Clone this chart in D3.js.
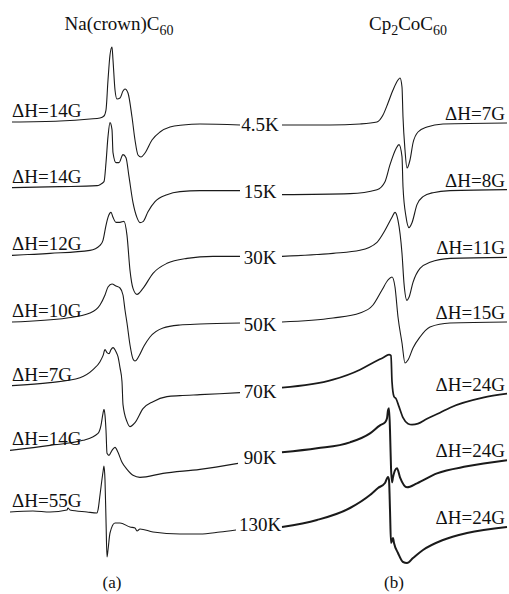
<!DOCTYPE html>
<html>
<head>
<meta charset="utf-8">
<script src="https://cdn.jsdelivr.net/npm/d3@7"></script>
<style>
  html, body { margin: 0; padding: 0; background: #fff; }
  svg { display: block; }
  text { font-family: "Liberation Serif", "Times New Roman", serif; fill: #111; }
</style>
</head>
<body>
<script>
// Temperatures shared by both panels
const temps = ["4.5K", "15K", "30K", "50K", "70K", "90K", "130K"];

// Peak-to-peak linewidths
const widthsA = [14, 14, 12, 10, 7, 14, 55];
const widthsB = [7, 8, 11, 15, 24, 24, 24];

// Panel (a) Na(crown)C60 derivative spectra: [field offset (G), signal (a.u.)]
const a4_5K = [[2,3],[50,4],[80,6],[90,7],[94,9],[96,15],[98,45],[100,70],[102,78],[103,65],[105,35],[107,26],[110,27],[113,34],[115,36],[118,32],[122,8],[125,-15],[128,-30],[131,-32],[135,-28],[142,-15],[150,-7],[160,-2],[173,0],[190,1],[230,0]];
const a15K = [[2,4],[50,5],[87,6],[90,7],[94,10],[96,29],[98,55],[100,69],[102,62],[103,39],[106,29],[109,29],[113,37],[116,34],[119,15],[123,-11],[127,-26],[130,-31],[133,-30],[138,-20],[145,-10],[157,-3],[170,0],[190,1],[230,1]];
const a30K = [[2,3],[40,5],[80,8],[90,13],[93,18],[96,33],[98,41],[101,46],[103,41],[106,36],[110,36],[114,37],[117,23],[120,-12],[123,-30],[127,-36],[133,-30],[143,-15],[157,-5],[177,0],[203,2],[230,2]];
const a50K = [[2,3],[57,7],[80,12],[90,20],[95,30],[98,38],[102,41],[106,39],[110,37],[113,30],[115,15],[117,2],[120,-20],[123,-34],[125,-36],[129,-31],[134,-21],[140,-12],[153,-3],[170,0],[190,1],[230,2]];
const a70K = [[2,6],[40,9],[70,14],[83,22],[90,30],[93,36],[95,42],[97,39],[99,38],[101,42],[103,44],[106,40],[108,35],[110,24],[112,10],[113,-13],[117,-30],[120,-35],[125,-31],[133,-17],[143,-10],[157,-5],[170,-4],[190,-3],[230,-1]];
const a90K = [[0,8],[40,13],[73,18],[88,25],[91,33],[93,45],[94,49],[95,43],[96,28],[97,5],[99,3],[102,8],[105,11],[108,6],[112,-4],[117,-11],[123,-17],[130,-19],[153,-15],[190,-11],[228,-5]];
const a130K = [[0,13],[23,14],[40,13],[57,15],[58,17],[60,15],[77,13],[87,12],[88,15],[90,30],[93,53],[94,59],[95,45],[96,5],[97,-32],[98,-25],[100,-8],[105,2],[110,2],[120,-2],[125,-3],[127,-6],[130,-4],[143,-7],[170,-9],[190,-9],[210,-7],[226,-5]];

// Panel (b) Cp2CoC60 derivative spectra: [field offset (G), signal (a.u.)]
const b4_5K = [[1,0],[49,0],[79,1],[96,3],[102,10],[107,22],[112,35],[117,45],[119,47],[121,38],[122,8],[124,-25],[126,-43],[129,-35],[132,-18],[137,-7],[146,-2],[162,1],[226,2]];
const b15K = [[1,-3],[69,-2],[96,2],[104,10],[109,27],[115,43],[118,47],[121,35],[122,5],[125,-25],[128,-36],[131,-31],[136,-13],[142,-5],[152,-1],[169,1],[226,2]];
const b30K = [[1,2],[52,5],[79,8],[96,16],[104,28],[111,41],[114,46],[117,38],[121,5],[123,-25],[126,-42],[128,-39],[132,-24],[139,-10],[149,-4],[169,0],[226,1]];
const b50K = [[1,3],[52,7],[79,12],[92,20],[101,35],[107,45],[111,48],[114,38],[117,8],[121,-18],[124,-38],[127,-35],[132,-23],[139,-12],[149,-2],[169,2],[226,3]];
const b70K = [[1,4],[52,12],[79,22],[92,29],[102,34],[108,37],[110,36],[111,10],[113,-5],[115,-7],[118,-15],[122,-26],[127,-32],[131,-33],[137,-32],[146,-27],[159,-21],[169,-16],[202,-6],[226,-2]];
const b90K = [[1,6],[36,10],[69,16],[89,25],[99,33],[104,36],[106,40],[107,48],[108,50],[109,28],[110,-9],[111,-24],[112,-19],[114,-12],[116,-10],[119,-19],[126,-29],[136,-25],[156,-15],[186,-8],[226,-2]];
const b130K = [[1,-2],[36,5],[69,17],[89,30],[97,37],[104,42],[107,48],[108,45],[109,15],[110,-18],[112,-13],[113,-18],[117,-28],[122,-37],[126,-38],[132,-33],[142,-25],[162,-15],[186,-8],[226,-2]];

const seriesA = [a4_5K, a15K, a30K, a50K, a70K, a90K, a130K];
const seriesB = [b4_5K, b15K, b30K, b50K, b70K, b90K, b130K];

const W = 509, H = 594;
const svg = d3.select("body").append("svg").attr("width", W).attr("height", H);

// Scales: one field axis per panel, a row position per temperature, and a signal scale
const xA = d3.scaleLinear().domain([0, 230]).range([10, 240]);
const xB = d3.scaleLinear().domain([0, 226]).range([281, 507]);
const row = d3.scalePoint().domain(temps).range([125, 525]);
const sig = d3.scaleLinear().domain([-100, 100]).range([100, -100]);

const FONT = 19;

function drawPanel(series, x, cls, strokeWidths) {
  const g = svg.append("g").attr("class", cls);
  series.forEach((pts, i) => {
    const y0 = row(temps[i]);
    const line = d3.line()
      .x(d => x(d[0]))
      .y(d => y0 + sig(d[1]))
      .curve(d3.curveMonotoneX);
    g.append("path")
      .datum(pts)
      .attr("d", line)
      .attr("fill", "none")
      .attr("stroke", "#1a1a1a")
      .attr("stroke-width", strokeWidths[i])
      .attr("stroke-linejoin", "round");
  });
  return g;
}

drawPanel(seriesA, xA, "panel-a", [1.1, 1.1, 1.1, 1.1, 1.1, 1.1, 1.1]);
drawPanel(seriesB, xB, "panel-b", [1.1, 1.1, 1.1, 1.1, 1.7, 2.0, 2.0]);

// Linewidth labels sitting on the flat wings of each trace
svg.append("g").selectAll("text")
  .data(widthsA)
  .join("text")
  .attr("x", 12)
  .attr("y", (d, i) => row(temps[i]) + sig(seriesA[i][0][1]) - 5)
  .attr("font-size", FONT)
  .text(d => `ΔH=${d}G`);

svg.append("g").selectAll("text")
  .data(widthsB)
  .join("text")
  .attr("x", 505)
  .attr("text-anchor", "end")
  .attr("y", (d, i) => row(temps[i]) + sig(seriesB[i][seriesB[i].length - 1][1]) - 3)
  .attr("font-size", FONT)
  .text(d => `ΔH=${d}G`);

// Temperature labels between the two panels
svg.append("g").selectAll("text")
  .data(temps)
  .join("text")
  .attr("x", 260)
  .attr("y", d => row(d) + 6)
  .attr("text-anchor", "middle")
  .attr("font-size", FONT)
  .text(d => d);

// Panel titles with subscripts
function title(cx, parts) {
  const t = svg.append("text").attr("x", cx).attr("y", 30)
    .attr("text-anchor", "middle").attr("font-size", FONT);
  parts.forEach(p => {
    t.append("tspan")
      .attr("font-size", p.sub ? 14 : FONT)
      .attr("dy", p.sub ? 5 : (p.up ? -5 : 0))
      .text(p.s);
  });
}
title(119, [{s: "Na(crown)C"}, {s: "60", sub: true}]);
title(408, [{s: "Cp"}, {s: "2", sub: true}, {s: "CoC", up: true}, {s: "60", sub: true}]);

// Panel letters
svg.append("text").attr("x", 112).attr("y", 588).attr("text-anchor", "middle")
  .attr("font-size", 17).text("(a)");
svg.append("text").attr("x", 394).attr("y", 588).attr("text-anchor", "middle")
  .attr("font-size", 17).text("(b)");
</script>
</body>
</html>
